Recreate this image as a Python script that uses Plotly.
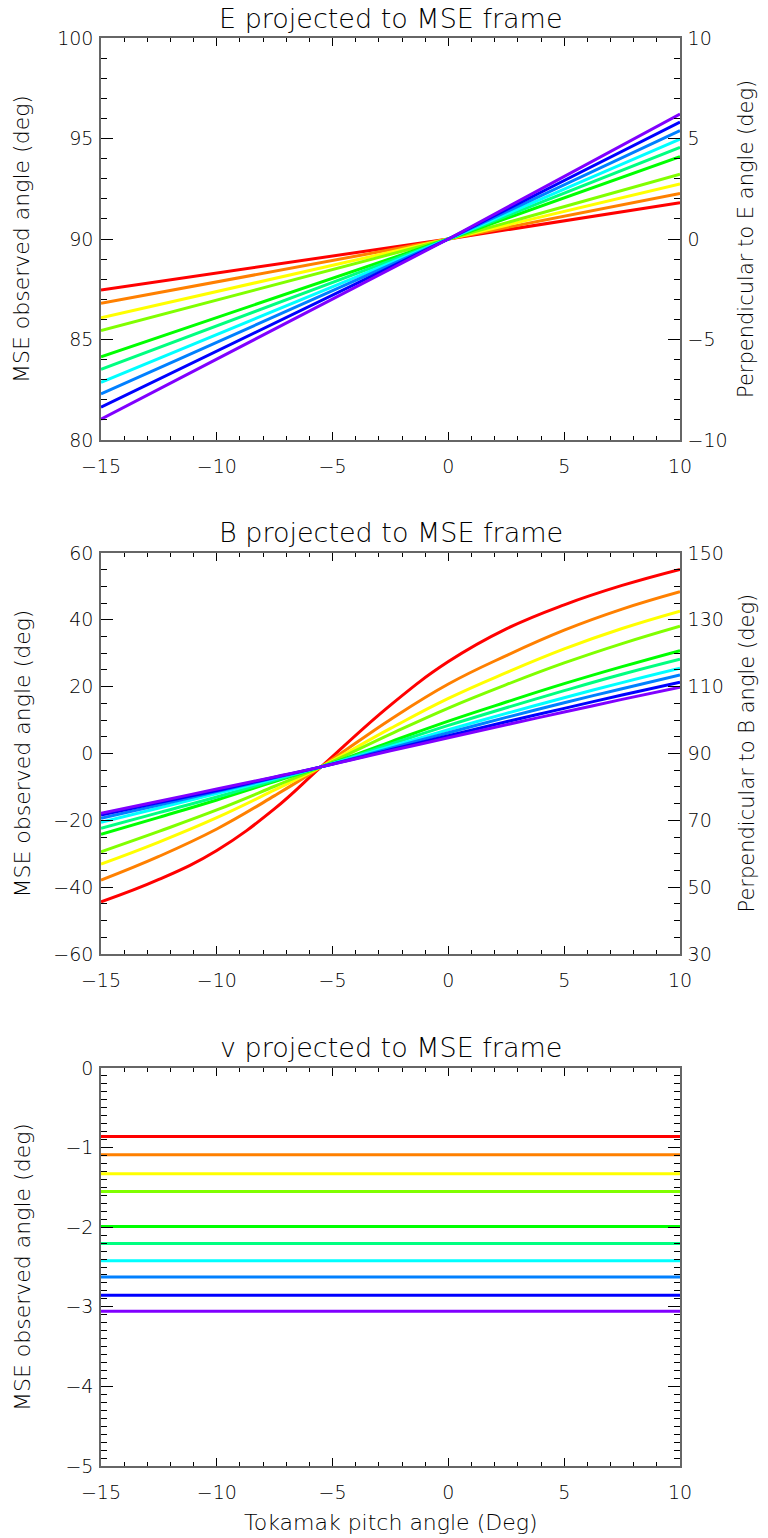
import plotly.graph_objects as go

# ---------------- data ----------------
colors = ["#ff0000", "#ff8000", "#ffff00", "#80ff00", "#00ff00",
          "#00ff80", "#00ffff", "#0080ff", "#0000ff", "#8000ff"]

# Panel 1: E projected to MSE frame
x_e = [-15, 0, 10]
e_red = [87.46, 90, 91.81]
e_orange = [86.80, 90, 92.27]
e_yellow = [86.08, 90, 92.74]
e_chart = [85.44, 90, 93.22]
e_green = [84.14, 90, 94.10]
e_spring = [83.52, 90, 94.56]
e_cyan = [82.87, 90, 94.97]
e_azure = [82.29, 90, 95.39]
e_blue = [81.63, 90, 95.82]
e_violet = [81.04, 90, 96.22]
e_series = [e_red, e_orange, e_yellow, e_chart, e_green,
            e_spring, e_cyan, e_azure, e_blue, e_violet]

# Panel 2: B projected to MSE frame
x_b = [-15, -12.5, -10, -7.5, -5.5, -2.5, 0, 2.5, 5, 7.5, 10]
b_red = [-44.4, -37.7, -29.0, -16.5, -4.0, 14.5, 27.5, 37.3, 44.5, 50.3, 55.1]
b_orange = [-37.9, -30.8, -22.6, -12.6, -4.0, 10.2, 20.8, 29.3, 36.9, 43.2, 48.4]
b_yellow = [-33.1, -26.5, -19.2, -10.9, -4.0, 7.5, 16.5, 24.2, 31.3, 37.4, 42.6]
b_chart = [-29.4, -23.3, -16.9, -9.8, -4.0, 5.8, 13.6, 20.6, 27.1, 32.9, 38.1]
b_green = [-24.2, -19.1, -13.9, -8.4, -4.0, 3.5, 9.7, 15.4, 20.9, 26.0, 30.8]
b_spring = [-22.4, -17.7, -13.0, -8.0, -4.0, 2.8, 8.4, 13.7, 18.8, 23.7, 28.2]
b_cyan = [-20.6, -16.3, -12.0, -7.6, -4.0, 2.1, 7.1, 12.0, 16.7, 21.2, 25.5]
b_azure = [-19.4, -15.4, -11.4, -7.3, -4.0, 1.6, 6.2, 10.8, 15.2, 19.4, 23.5]
b_blue = [-18.4, -14.7, -11.1, -7.1, -4.0, 1.1, 5.3, 9.5, 13.5, 17.5, 21.3]
b_violet = [-17.9, -14.3, -10.6, -7.0, -4.0, 0.8, 4.7, 8.6, 12.4, 16.2, 19.8]
b_series = [b_red, b_orange, b_yellow, b_chart, b_green,
            b_spring, b_cyan, b_azure, b_blue, b_violet]

# Panel 3: v projected to MSE frame (constant)
x_v = [-15, 10]
v_levels = [-0.86, -1.09, -1.33, -1.55, -1.99,
            -2.205, -2.42, -2.625, -2.855, -3.055]

titles = ["E projected to MSE frame", "B projected to MSE frame",
          "v projected to MSE frame"]
left_title = "MSE observed angle (deg)"
right_titles = ["Perpendicular to E angle (deg)", "Perpendicular to B angle (deg)"]
x_title = "Tokamak pitch angle (Deg)"

# ---------------- figure ----------------
W, H = 768, 1538
FONT = "DejaVu Sans"
WEIGHT = 200
fig = go.Figure()

for c, ys in zip(colors, e_series):
    fig.add_trace(go.Scatter(x=x_e, y=ys, mode="lines", xaxis="x", yaxis="y",
                             line=dict(color=c, width=3), showlegend=False,
                             hoverinfo="skip"))
fig.add_trace(go.Scatter(x=[None], y=[None], xaxis="x", yaxis="y2",
                         showlegend=False, hoverinfo="skip"))

for c, ys in zip(colors, b_series):
    fig.add_trace(go.Scatter(x=x_b, y=ys, mode="lines", xaxis="x2", yaxis="y3",
                             line=dict(color=c, width=3, shape="spline",
                                       smoothing=1.2),
                             showlegend=False, hoverinfo="skip"))
fig.add_trace(go.Scatter(x=[None], y=[None], xaxis="x2", yaxis="y4",
                         showlegend=False, hoverinfo="skip"))

for c, lv in zip(colors, v_levels):
    fig.add_trace(go.Scatter(x=x_v, y=[lv, lv], mode="lines", xaxis="x3",
                             yaxis="y5", line=dict(color=c, width=3),
                             showlegend=False, hoverinfo="skip"))

def py(px):
    return 1 - px / H

xdom = [101 / W, 680 / W]
doms = [(38, 440), (553, 954), (1068, 1466)]

tickfont = dict(family=FONT, size=19, color="black", weight=WEIGHT)
base = dict(showline=True, linecolor="#666666", linewidth=1.5,
            ticks="inside", tickcolor="black", tickwidth=1,
            showgrid=False, zeroline=False, tickfont=tickfont,
            fixedrange=True, automargin=False)

def xax(anchor):
    return dict(base, domain=xdom, anchor=anchor, range=[-15, 10],
                tick0=0, dtick=5, ticklen=8, mirror="ticks",
                ticklabelstandoff=8,
                minor=dict(dtick=1, ticklen=4, ticks="inside",
                           tickcolor="black", tickwidth=1))

def yax(anchor, dom, rng, dtick, mdt, tick0=0, side="left", mirror=False,
        overlaying=None):
    d = dict(base, domain=[py(dom[1]), py(dom[0])], anchor=anchor,
             range=rng, tick0=tick0, dtick=dtick, ticklen=12, side=side,
             ticklabelstandoff=2,
             minor=dict(dtick=mdt, ticklen=6, ticks="inside",
                        tickcolor="black", tickwidth=1))
    if mirror:
        d["mirror"] = "ticks"
    if overlaying:
        d["overlaying"] = overlaying
    return d

fig.update_layout(
    width=W, height=H, margin=dict(l=0, r=0, t=0, b=0, autoexpand=False),
    paper_bgcolor="white", plot_bgcolor="white",
    xaxis=xax("y"), xaxis2=xax("y3"), xaxis3=xax("y5"),
    yaxis=yax("x", doms[0], [80, 100], 5, 1),
    yaxis2=yax("x", doms[0], [-10, 10], 5, 1, side="right", overlaying="y"),
    yaxis3=yax("x2", doms[1], [-60, 60], 20, 5),
    yaxis4=yax("x2", doms[1], [30, 150], 20, 5, tick0=30, side="right",
               overlaying="y3"),
    yaxis5=yax("x3", doms[2], [-5, 0], 1, 0.1, mirror=True),
)

textfont = dict(family=FONT, size=21, color="black", weight=WEIGHT)
ann = []
title_y = [18, 533, 1047]
for t, ty, dom in zip(titles, title_y, doms):
    ann.append(dict(text=t, x=(101 + 680) / 2 / W, y=py(ty), xref="paper",
                    yref="paper", showarrow=False, xanchor="center",
                    yanchor="middle", font=dict(textfont, size=27)))
    ann.append(dict(text=left_title, x=22 / W, y=py((dom[0] + dom[1]) / 2),
                    xref="paper", yref="paper", showarrow=False,
                    textangle=-90, xanchor="center", yanchor="middle",
                    font=dict(textfont, size=22)))
for t, dom in zip(right_titles, doms[:2]):
    ann.append(dict(text=t, x=746 / W, y=py((dom[0] + dom[1]) / 2),
                    xref="paper", yref="paper", showarrow=False,
                    textangle=-90, xanchor="center", yanchor="middle",
                    font=textfont))
ann.append(dict(text=x_title, x=(101 + 680) / 2 / W, y=py(1522), xref="paper",
                yref="paper", showarrow=False, xanchor="center",
                yanchor="middle", font=dict(textfont, size=22)))
fig.update_layout(annotations=ann)

fig.write_html("out.html")
